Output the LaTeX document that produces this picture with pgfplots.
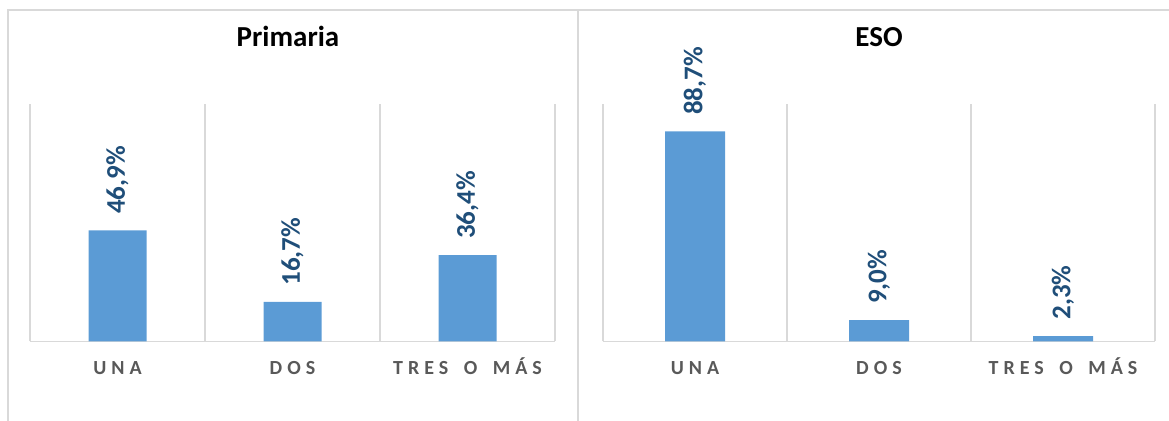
\documentclass[border=0pt]{standalone}
\usepackage{fontspec}
\setmainfont{Carlito}
\newfontfamily\spacedfont[LetterSpace=25]{Carlito}
\usepackage{pgfplots}
\pgfplotsset{compat=1.18}
\definecolor{barblue}{HTML}{5B9BD5}
\definecolor{lblblue}{HTML}{1F4E79}
\definecolor{gridgray}{HTML}{D9D9D9}
\definecolor{tickgray}{HTML}{595959}
\pgfplotsset{
  panel/.style={
    scale only axis,
    height=118.5pt,
    ymin=0, ymax=100,
    xmin=-0.5, xmax=2.5,
    axis line style={draw=none},
    ytick=\empty,
    xtick={0,1,2},
    xticklabels={UNA,DOS,TRES\hspace{3pt} O\hspace{3pt} MÁS},
    major tick length=0pt,
    xticklabel style={font=\spacedfont\bfseries\fontsize{10}{12}\selectfont, text=tickgray, anchor=base, yshift=-16.75pt},
    extra x ticks={-0.5,0.5,1.5,2.5},
    extra x tick labels={},
    extra x tick style={grid=major, major grid style={draw=gridgray, line width=0.9pt}},
    extra y ticks={0},
    extra y tick labels={},
    extra y tick style={grid=major, major grid style={draw=gridgray, line width=0.9pt}},
    clip=false,
    ybar,
    point meta=explicit symbolic,
    nodes near coords,
    nodes near coords style={rotate=90, anchor=west, inner xsep=8pt, inner ysep=0pt,
      font=\bfseries\fontsize{13.5}{15}\selectfont, text=lblblue},
  }
}
\begin{document}
\begin{tikzpicture}
\useasboundingbox (0,0) rectangle (584.5pt,-210.5pt);
% panel borders
\draw[gridgray, line width=1pt] (3.75pt,-210.5pt) -- (3.75pt,-5pt) -- (584.5pt,-5pt);
\draw[gridgray, line width=1pt] (289pt,-210.5pt) -- (289pt,-5pt);
% left panel
\begin{axis}[panel, width=262.5pt, at={(15pt,-170.75pt)}, anchor=south west, bar width=29pt]
\addplot[fill=barblue, draw=none] coordinates {(0,46.9) [46,9\%] (1,16.7) [16,7\%] (2,36.4) [36,4\%]};
\end{axis}
\node[font=\bfseries\fontsize{14.5}{16}\selectfont, anchor=base] at (144pt,-23.5pt) {Primaria};
% right panel
\begin{axis}[panel, width=276pt, at={(301.5pt,-170.75pt)}, anchor=south west, bar width=30pt]
\addplot[fill=barblue, draw=none] coordinates {(0,88.7) [88,7\%] (1,9.0) [9,0\%] (2,2.3) [2,3\%]};
\end{axis}
\node[font=\bfseries\fontsize{14.5}{16}\selectfont, anchor=base] at (439.5pt,-23.5pt) {ESO};
\end{tikzpicture}
\end{document}
